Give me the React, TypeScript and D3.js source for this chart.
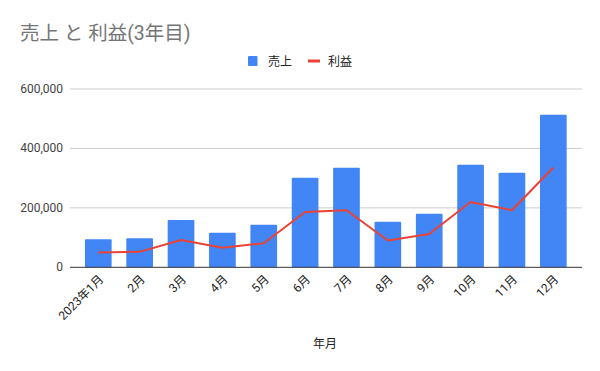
import React from "react";
import * as d3 from "d3";

const months = ["2023年1月", "2月", "3月", "4月", "5月", "6月", "7月", "8月", "9月", "10月", "11月", "12月"];
const sales = [94000, 98000, 159000, 116000, 143000, 301000, 335000, 153000, 180000, 345000, 318000, 513000];
const profit = [50000, 52000, 92000, 66000, 81000, 186000, 192000, 90000, 112000, 220000, 192000, 336000];
const yTicks = [0, 200000, 400000, 600000];

const W = 600;
const H = 371;
const FONT = "Roboto, 'Noto Sans CJK JP', sans-serif";

export default function App() {
  const x = d3.scaleBand<string>().domain(months).range([77.6, 574]).paddingInner(0.355).paddingOuter(0.1775);
  const y = d3.scaleLinear().domain([0, 600000]).range([267.3, 89]);
  const fmt = d3.format(",");
  const line = d3
    .line<number>()
    .x((_, i) => (x(months[i]) as number) + x.bandwidth() / 2)
    .y((d) => y(d));

  return (
    <svg width={W} height={H} style={{ position: "absolute", left: 0, top: 0, background: "#fff" }}>
      <rect width={W} height={H} fill="#fff" />
      <text x={20} y={40} fontFamily={FONT} fontSize={19.5} fill="#757575">売上 と 利益(3年目)</text>
      {/* legend */}
      <rect x={248} y={56} width={9.5} height={10} fill="#4285f4" rx={1} />
      <text x={268} y={65.5} fontFamily={FONT} fontSize={12} fill="#222">売上</text>
      <line x1={308} x2={320} y1={61} y2={61} stroke="#ea4335" strokeWidth={3} />
      <text x={328} y={65.5} fontFamily={FONT} fontSize={12} fill="#222">利益</text>
      {/* grid */}
      {yTicks.map((t) => (
        <g key={t}>
          {t !== 0 && <line x1={70} x2={582} y1={y(t)} y2={y(t)} stroke="#cccccc" strokeWidth={1} />}
          <text x={63} y={y(t) + 4} textAnchor="end" fontFamily={FONT} fontSize={12} fill="#444">{fmt(t)}</text>
        </g>
      ))}
      {/* bars */}
      {sales.map((v, i) => (
        <rect key={i} x={x(months[i])} y={y(v)} width={x.bandwidth()} height={y(0) - y(v)} fill="#4285f4" rx={1} />
      ))}
      <line x1={70} x2={582} y1={y(0)} y2={y(0)} stroke="#333" strokeWidth={1} />
      <path d={line(profit) || ""} fill="none" stroke="#ea4335" strokeWidth={2} strokeLinejoin="round" />
      {/* x labels */}
      {months.map((m) => {
        const cx = (x(m) as number) + x.bandwidth() / 2 + 6;
        const cy = 280;
        return (
          <text key={m} x={cx} y={cy} transform={`rotate(-45 ${cx} ${cy})`} textAnchor="end" fontFamily={FONT} fontSize={12} fill="#222">{m}</text>
        );
      })}
      <text x={325} y={348} textAnchor="middle" fontFamily={FONT} fontSize={12} fill="#222">年月</text>
    </svg>
  );
}
